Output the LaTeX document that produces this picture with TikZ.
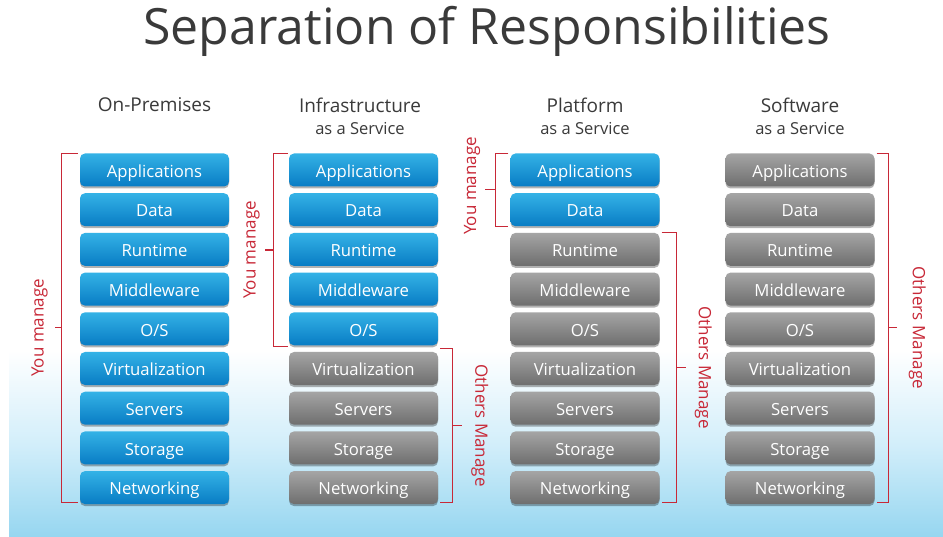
\documentclass[tikz,border=0pt]{standalone}
\usepackage{fontspec}
\setmainfont{Open Sans}
\usetikzlibrary{calc,shadows}
\definecolor{bluetop}{RGB}{52,178,230}
\definecolor{bluebot}{RGB}{8,124,196}
\definecolor{graytop}{RGB}{165,165,165}
\definecolor{graybot}{RGB}{110,110,110}
\definecolor{redc}{RGB}{200,40,55}
\definecolor{txt}{RGB}{58,58,58}
\definecolor{skyb}{RGB}{150,214,240}
\definecolor{skym}{RGB}{210,238,250}
\begin{document}
\begin{tikzpicture}[x=1bp,y=-1bp,
  blk/.style={minimum width=149bp, minimum height=33bp, rounded corners=5bp, inner sep=0pt,
    text height=14.5bp, text depth=0bp,
    text=white, font=\fontsize{16.7bp}{19bp}\selectfont,
    drop shadow={shadow xshift=0bp, shadow yshift=-2bp, opacity=0.3, fill=black}},
  bluebox/.style={blk, top color=bluetop, bottom color=bluebot},
  graybox/.style={blk, top color=graytop, bottom color=graybot},
  hdr/.style={text=txt, font=\fontsize{19bp}{22bp}\selectfont, inner sep=0pt},
  sub/.style={text=txt, font=\fontsize{16.5bp}{19bp}\selectfont, inner sep=0pt},
  brk/.style={draw=redc, line width=1.3bp},
  lbl/.style={text=redc, font=\fontsize{17bp}{19bp}\selectfont, inner sep=0pt, anchor=south}]
\useasboundingbox (0,0) rectangle (943,537);
\fill[white] (0,0) rectangle (943,537);
\shade[top color=white, bottom color=skym] (9,350) rectangle (943,445);
\shade[top color=skym, bottom color=skyb] (9,445) rectangle (943,537);

\node[text=txt, font=\fontsize{50bp}{54bp}\selectfont, anchor=base, inner sep=0pt] (title) at (487,45) {Separation of Responsibilities};

\node[hdr] (h1) at (154.5,105) {On-Premises};
\node[hdr] (h2) at (360,105) {Infrastructure};
\node[sub] (h2s) at (360,129) {as a Service};
\node[hdr] (h3) at (585,105) {Platform};
\node[sub] (h3s) at (585,129) {as a Service};
\node[hdr] (h4) at (800,105) {Software};
\node[sub] (h4s) at (800,129) {as a Service};

\foreach \col/\xx/\nb in {1/154.5/9, 2/363.5/5, 3/585/2, 4/800/0} {
  \foreach \lab [count=\i] in {Applications,Data,Runtime,Middleware,O/S,Virtualization,Servers,Storage,Networking} {
    \ifnum\i>\nb\relax \tikzset{cur/.style={graybox}}\else \tikzset{cur/.style={bluebox}}\fi
    \node[cur] (c\col r\i) at (\xx,{170+39.7*(\i-1)}) {\lab};
  }
}

% Column 1: You manage
\coordinate (a1t) at ([xshift=-18bp]c1r1.north west);
\coordinate (a1b) at ([xshift=-18bp,yshift=2bp]c1r9.south west);
\draw[brk] ([xshift=-2bp]c1r1.north west) -- (a1t) -- (a1b) -- ([xshift=-2bp,yshift=2bp]c1r9.south west);
\draw[brk] ($(a1t)!0.5!(a1b)$) -- ++(-7,0) coordinate (a1m);
\node[lbl, rotate=90] (l1) at ([xshift=-7bp]a1m) {You manage};

% Column 2: You manage
\coordinate (a2t) at ([xshift=-15bp]c2r1.north west);
\coordinate (a2b) at ([xshift=-15bp,yshift=-1bp]c2r5.south west);
\draw[brk] ([xshift=-1bp]c2r1.north west) -- (a2t) -- (a2b) -- ([xshift=-1bp,yshift=-1bp]c2r5.south west);
\draw[brk] ($(a2t)!0.5!(a2b)$) -- ++(-9,0) coordinate (a2m);
\node[lbl, rotate=90] (l2) at ([xshift=-5bp]a2m) {You manage};

% Column 2: Others Manage
\coordinate (b2t) at ([xshift=14bp,yshift=3bp]c2r6.north east);
\coordinate (b2b) at ([xshift=14bp,yshift=2bp]c2r9.south east);
\draw[brk] ([xshift=2bp,yshift=3bp]c2r6.north east) -- (b2t) -- (b2b) -- ([xshift=2bp,yshift=2bp]c2r9.south east);
\draw[brk] ($(b2t)!0.5!(b2b)$) -- ++(10,0) coordinate (b2m);
\node[lbl, rotate=-90] (l3) at ([xshift=9bp]b2m) {Others Manage};

% Column 3: You manage
\coordinate (a3t) at ([xshift=-15bp]c3r1.north west);
\coordinate (a3b) at ([xshift=-15bp]c3r2.south west);
\draw[brk] ([xshift=-2bp]c3r1.north west) -- (a3t) -- (a3b) -- ([xshift=-2bp]c3r2.south west);
\draw[brk] ($(a3t)!0.5!(a3b)$) -- ++(-10,0) coordinate (a3m);
\node[lbl, rotate=90] (l4) at ([xshift=-5bp,yshift=4bp]a3m) {You manage};

% Column 3: Others Manage
\coordinate (b3t) at ([xshift=17bp]c3r3.north east);
\coordinate (b3b) at ([xshift=17bp,yshift=2bp]c3r9.south east);
\draw[brk] ([xshift=2bp]c3r3.north east) -- (b3t) -- (b3b) -- ([xshift=2bp,yshift=2bp]c3r9.south east);
\draw[brk] ($(b3t)!0.5!(b3b)$) -- ++(9,0) coordinate (b3m);
\node[lbl, rotate=-90] (l5) at ([xshift=9bp]b3m) {Others Manage};

% Column 4: Others Manage
\coordinate (b4t) at ([xshift=14bp]c4r1.north east);
\coordinate (b4b) at ([xshift=14bp,yshift=2bp]c4r9.south east);
\draw[brk] ([xshift=2bp]c4r1.north east) -- (b4t) -- (b4b) -- ([xshift=2bp,yshift=2bp]c4r9.south east);
\draw[brk] ($(b4t)!0.5!(b4b)$) -- ++(8,0) coordinate (b4m);
\node[lbl, rotate=-90] (l6) at ([xshift=12bp]b4m) {Others Manage};
\end{tikzpicture}
\end{document}
